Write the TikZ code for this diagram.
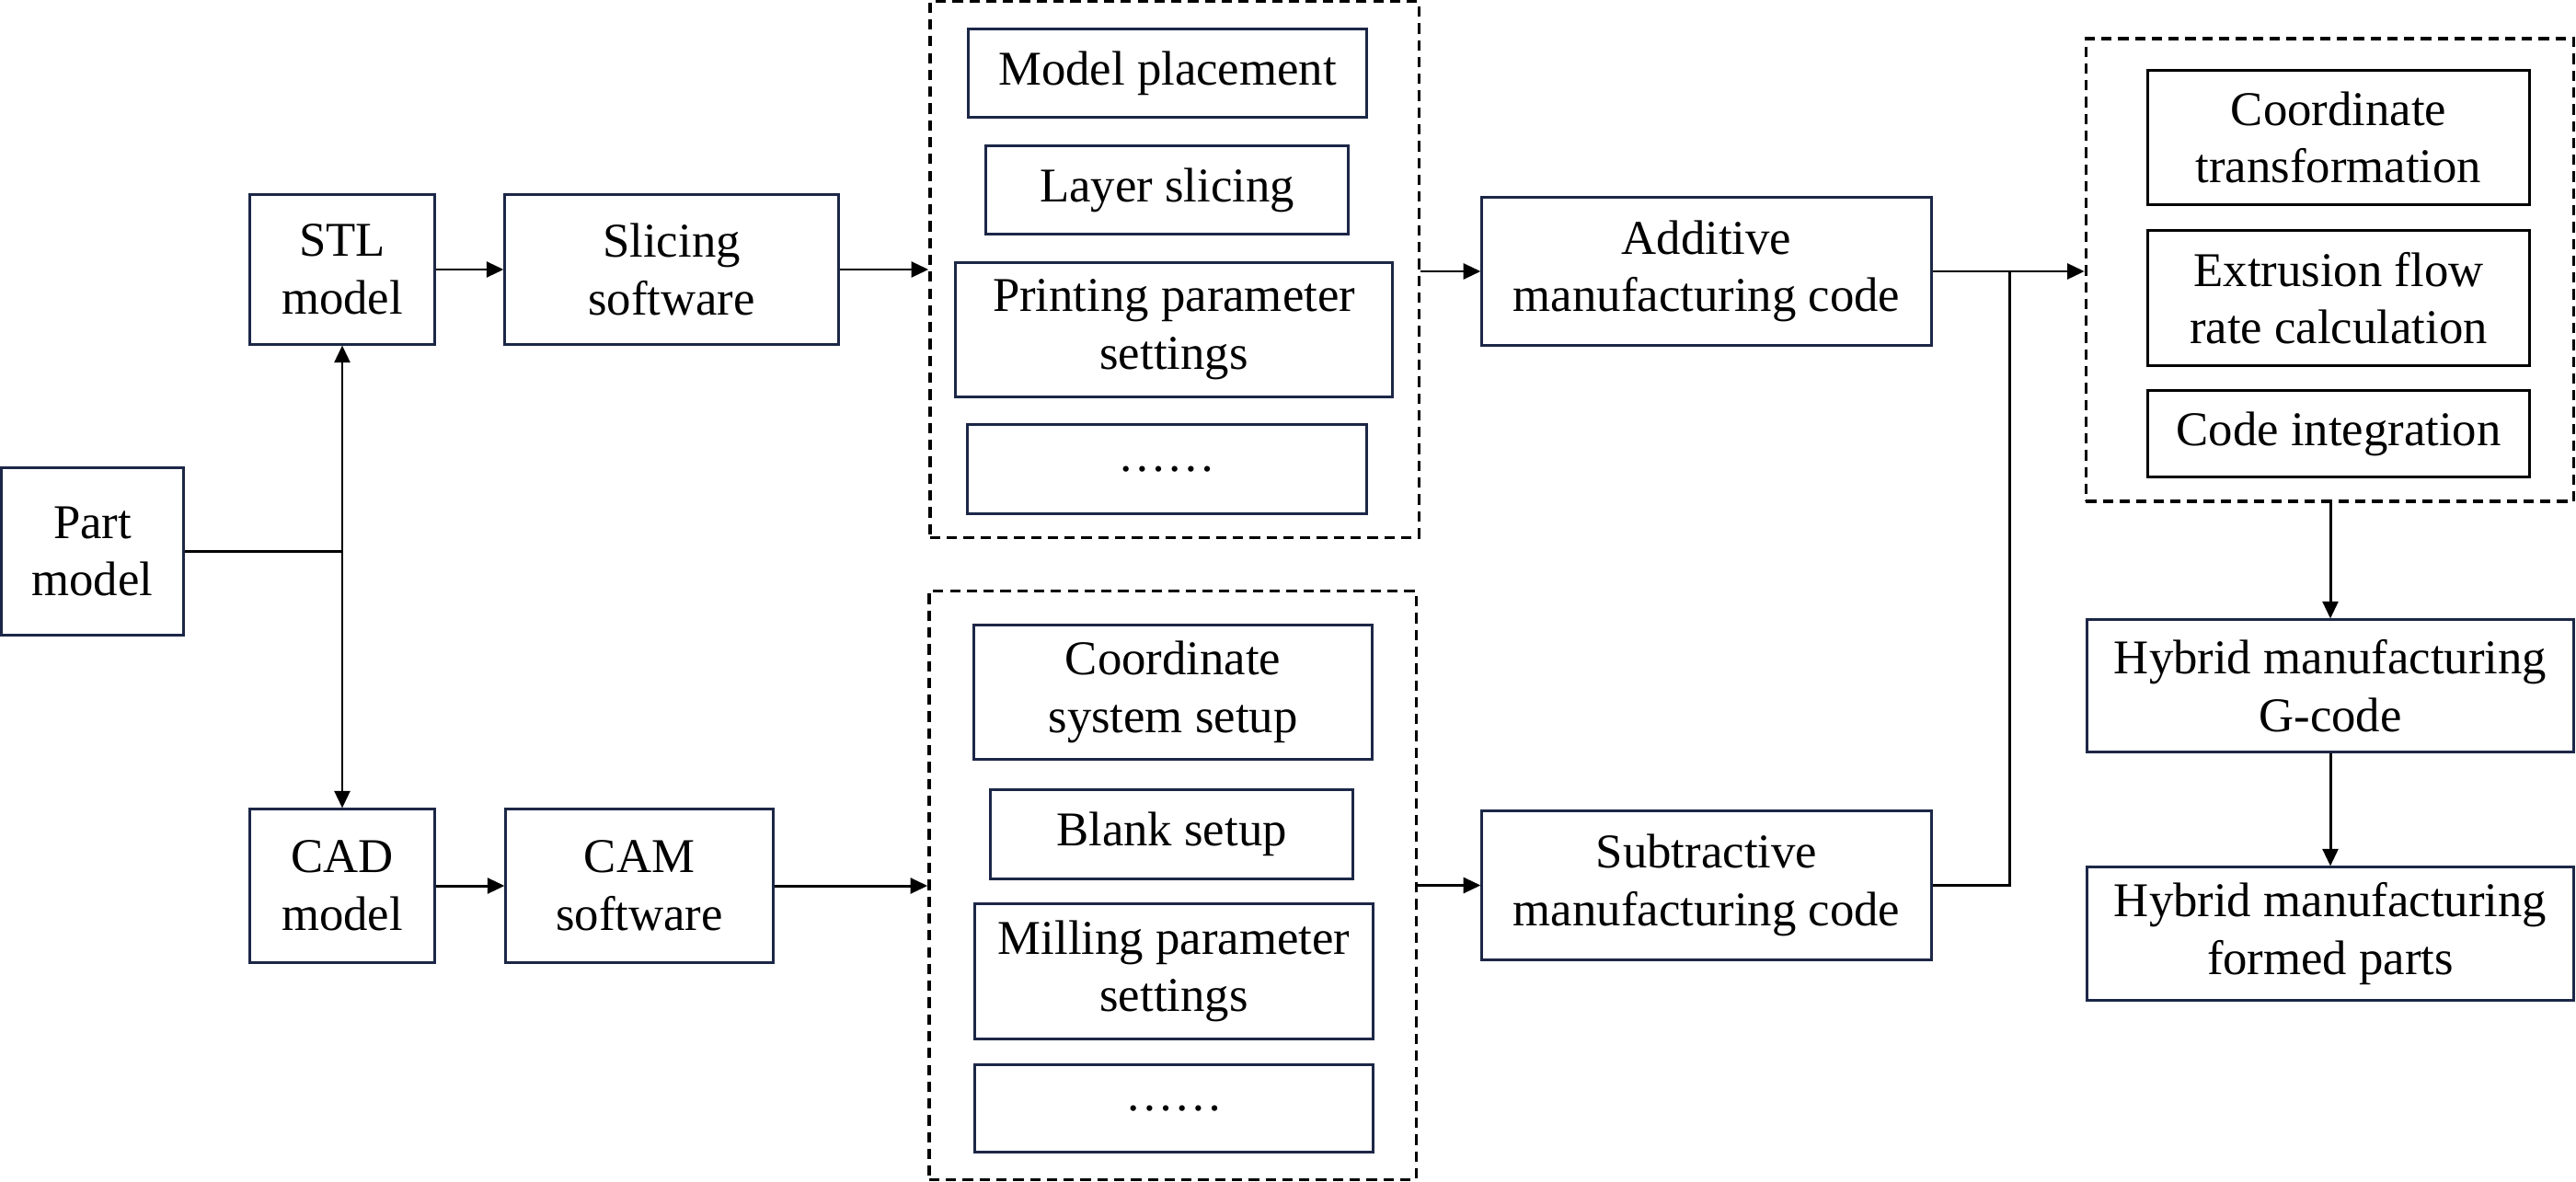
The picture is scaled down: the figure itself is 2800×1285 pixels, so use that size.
\documentclass[tikz,border=0pt]{standalone}
\usepackage{fontspec}
\setmainfont{Liberation Serif}
\usetikzlibrary{arrows.meta,calc}
\definecolor{navy}{HTML}{1C2747}
\begin{document}
\begin{tikzpicture}[x=0.01cm,y=-0.01cm,
  font=\fontsize{15}{17.8}\selectfont,
  box/.style={draw=navy,line width=0.85pt,fill=white,align=center,inner sep=0pt},
  bbox/.style={draw=black,line width=0.85pt,fill=white,align=center,inner sep=0pt},
  grp/.style={draw=black,line width=0.95pt,dash pattern=on 3.2pt off 2pt,inner sep=0pt},
  conn/.style={line width=0.85pt,draw=black},
  arr/.style={conn,-{Triangle[length=5.3pt,width=4.8pt]}},
  darr/.style={conn,{Triangle[length=5.3pt,width=4.8pt]}-{Triangle[length=5.3pt,width=4.8pt]}}
]
\useasboundingbox[fill=white] (0,0) rectangle (2800,1285);
% groups (dashed)
\node[grp,minimum width=5.31cm,minimum height=5.82cm] (topdash) at (1276.5,293) {};
\node[grp,minimum width=5.29cm,minimum height=6.39cm] (botdash) at (1274.5,962.5) {};
\node[grp,minimum width=5.30cm,minimum height=5.03cm] (rightdash) at (2532.5,293.5) {};
% main boxes
\node[box,minimum width=1.97cm,minimum height=1.81cm] (part) at (100.5,599.5) {Part\\model};
\node[box,minimum width=2.00cm,minimum height=1.62cm] (stl) at (372,293) {STL\\model};
\node[box,minimum width=3.62cm,minimum height=1.62cm] (slice) at (730,293) {Slicing\\software};
\node[box,minimum width=2.00cm,minimum height=1.66cm] (cad) at (372,963) {CAD\\model};
\node[box,minimum width=2.90cm,minimum height=1.66cm] (cam) at (695,963) {CAM\\software};
% top group contents
\node[box,minimum width=4.32cm,minimum height=0.95cm] (mp) at (1269,79.5) {Model placement};
\node[box,minimum width=3.93cm,minimum height=0.95cm] (ls) at (1268.5,206.5) {Layer slicing};
\node[box,minimum width=4.74cm,minimum height=1.45cm] (pp) at (1276,358.5) {Printing parameter\\settings};
\node[box,minimum width=4.33cm,minimum height=0.96cm] (d1) at (1268.5,510) {……};
% bottom group contents
\node[box,minimum width=4.32cm,minimum height=1.45cm] (cs) at (1275,752.5) {Coordinate\\system setup};
\node[box,minimum width=3.93cm,minimum height=0.96cm] (bs) at (1273.5,907) {Blank setup};
\node[box,minimum width=4.32cm,minimum height=1.46cm] (mill) at (1276,1056) {Milling parameter\\settings};
\node[box,minimum width=4.32cm,minimum height=0.94cm] (d2) at (1276,1205) {……};
% codes
\node[box,minimum width=4.88cm,minimum height=1.60cm] (add) at (1855,295) {Additive\\manufacturing code};
\node[box,minimum width=4.88cm,minimum height=1.61cm] (sub) at (1855,962.5) {Subtractive\\manufacturing code};
% right group contents
\node[bbox,minimum width=4.14cm,minimum height=1.45cm] (ct) at (2542,149.5) {Coordinate\\transformation};
\node[bbox,minimum width=4.14cm,minimum height=1.46cm] (ef) at (2542,324) {Extrusion flow\\rate calculation};
\node[bbox,minimum width=4.14cm,minimum height=0.93cm] (ci) at (2542,471.5) {Code integration};
% outputs
\node[box,minimum width=5.28cm,minimum height=1.43cm] (hg) at (2533,745.5) {Hybrid manufacturing\\G-code};
\node[box,minimum width=5.28cm,minimum height=1.44cm] (hf) at (2533,1015) {Hybrid manufacturing\\formed parts};
% connectors
\coordinate (j) at (372,599.5);
\coordinate (jx) at (2184,295);
\draw[conn] (part.east) -- (j);
\draw[darr] (stl.south) -- (cad.north);
\draw[arr] (stl.east) -- (slice.west);
\draw[arr] (slice.east) -- (slice.east -| topdash.west);
\draw[arr] (cad.east) -- (cam.west);
\draw[arr] (cam.east) -- (cam.east -| botdash.west);
\draw[arr] (topdash.east |- add.west) -- (add.west);
\draw[arr] (botdash.east |- sub.west) -- (sub.west);
\draw[arr] (add.east) -- (add.east -| rightdash.west);
\draw[conn] (sub.east) -| (jx);
\draw[arr] (rightdash.south -| hg.north) -- (hg.north);
\draw[arr] (hg.south) -- (hf.north);
\end{tikzpicture}
\end{document}
